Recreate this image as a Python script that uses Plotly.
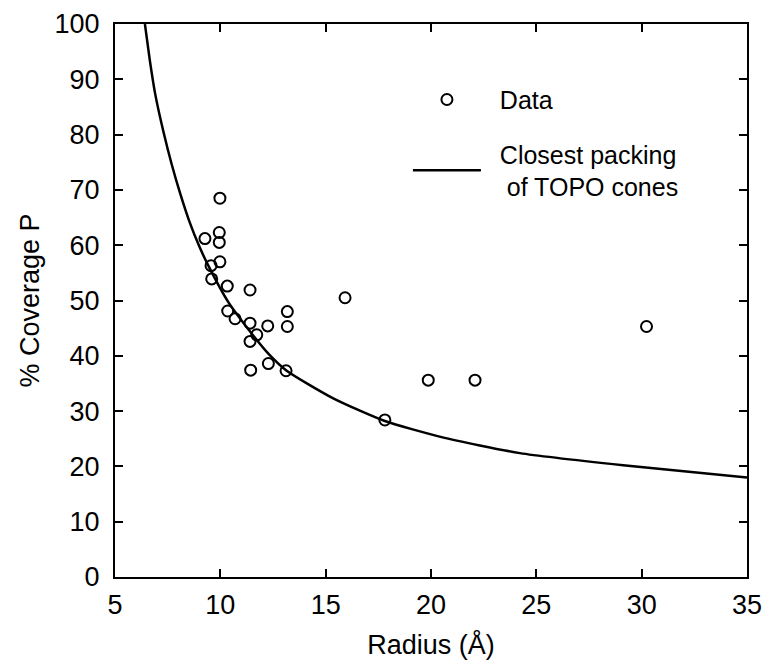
import plotly.graph_objects as go

# Data points (radius in Å, % coverage)
data_radius = [9.98, 9.27, 9.95, 9.95, 9.98, 9.56, 9.59, 10.33, 11.41, 10.35,
               10.70, 11.41, 12.25, 13.18, 13.18, 11.73, 11.41, 12.28, 11.44, 13.12,
               15.92, 30.23, 19.87, 22.09, 17.81]
data_coverage = [68.5, 61.2, 62.3, 60.5, 57.0, 56.3, 53.9, 52.6, 51.9, 48.1,
                 46.7, 45.9, 45.4, 48.0, 45.3, 43.8, 42.6, 38.6, 37.4, 37.3,
                 50.5, 45.3, 35.6, 35.6, 28.4]

# Closest packing curve
curve_radius = [6.42, 6.65, 6.9, 7.3, 7.7, 8.1, 8.56, 9.0, 9.43, 10.38, 11.41,
                12.3, 13.15, 15.36, 17.81, 20.5, 24.22, 29.12, 35.0]
curve_coverage = [100, 93.5, 87.5, 80.5, 74.5, 69.3, 64.0, 59.8, 56.3, 49.7, 44.4,
                  40.3, 37.3, 32.3, 28.2, 25.3, 22.4, 20.2, 18.0]

x_ticks = [5, 10, 15, 20, 25, 30, 35]
y_ticks = [0, 10, 20, 30, 40, 50, 60, 70, 80, 90, 100]

FONT = "Liberation Sans, Arial, sans-serif"
NB = "\u00a0"

fig = go.Figure()
fig.add_trace(go.Scatter(
    x=data_radius, y=data_coverage, mode="markers", name=NB * 2 + "Data", legendgroup="a",
    marker=dict(symbol="circle-open", size=11, color="black", line=dict(width=2, color="black")),
))
fig.add_trace(go.Scatter(
    x=curve_radius, y=curve_coverage, mode="lines", legendgroup="b",
    name=NB * 2 + "Closest packing<br>" + NB * 3 + "of TOPO cones",
    line=dict(color="black", width=2.5, shape="spline", smoothing=0.6),
))

axis_common = dict(
    showline=True, linecolor="black", linewidth=2, mirror="ticks",
    ticks="inside", ticklen=8, tickwidth=1.5, tickcolor="black",
    showgrid=False, zeroline=False, automargin=False,
    tickfont=dict(family=FONT, size=27, color="black"),
)

fig.update_xaxes(range=[5, 35], tickvals=x_ticks, ticktext=[str(v) for v in x_ticks],
                 title=dict(text="Radius (Å)", font=dict(family=FONT, size=27, color="black"), standoff=16),
                 ticklabelstandoff=3, **axis_common)
fig.update_yaxes(range=[0, 100], tickvals=y_ticks, ticktext=[str(v) for v in y_ticks],
                 title=dict(text="% Coverage P", font=dict(family=FONT, size=27, color="black"), standoff=7),
                 ticklabelstandoff=8, **axis_common)

fig.update_layout(
    width=766, height=668,
    margin=dict(l=115, r=19, t=24, b=91),
    plot_bgcolor="white", paper_bgcolor="white",
    showlegend=True,
    legend=dict(x=0.4635, y=0.9046, xanchor="left", yanchor="top",
                bgcolor="rgba(0,0,0,0)", font=dict(family=FONT, size=25, color="black"),
                itemwidth=68, tracegroupgap=19),
)

fig.write_html("out.html")
